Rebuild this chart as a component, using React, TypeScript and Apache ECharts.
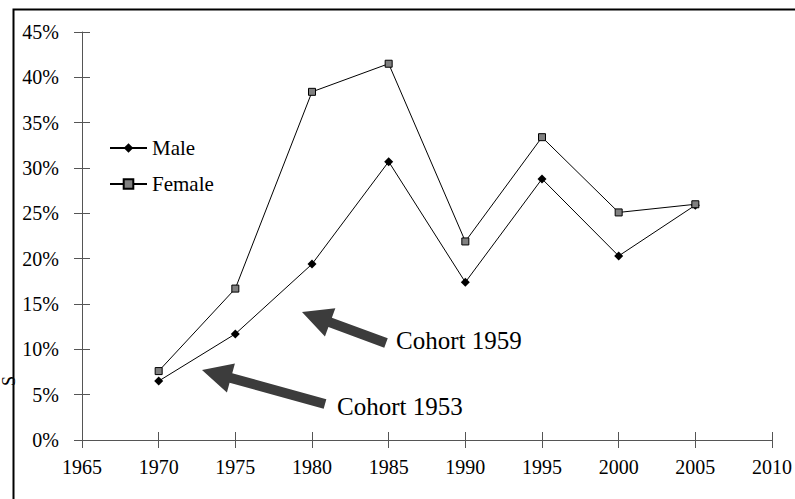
import React, { useEffect, useRef } from "react";
import * as echarts from "echarts";

const years = [1970, 1975, 1980, 1985, 1990, 1995, 2000, 2005];
const maleValues = [6.5, 11.7, 19.4, 30.7, 17.4, 28.8, 20.3, 25.9];
const femaleValues = [7.6, 16.7, 38.4, 41.5, 21.9, 33.4, 25.1, 26.0];
const seriesNames = ["Male", "Female"];
const cohortLabels = ["Cohort 1959", "Cohort 1953"];

const FONT = "Liberation Serif";
const LABEL_FONT = "Times New Roman, Liberation Serif, serif";

function arrowPoints(tip: number[], tail: number[], headLen: number, headHalf: number, shaftHalf: number) {
  const dx = tail[0] - tip[0];
  const dy = tail[1] - tip[1];
  const len = Math.sqrt(dx * dx + dy * dy);
  const ux = dx / len, uy = dy / len;
  const nx = -uy, ny = ux;
  const bx = tip[0] + headLen * ux, by = tip[1] + headLen * uy;
  return [
    [tip[0], tip[1]],
    [bx - headHalf * nx, by - headHalf * ny],
    [bx - shaftHalf * nx, by - shaftHalf * ny],
    [tail[0] - shaftHalf * nx, tail[1] - shaftHalf * ny],
    [tail[0] + shaftHalf * nx, tail[1] + shaftHalf * ny],
    [bx + shaftHalf * nx, by + shaftHalf * ny],
    [bx + headHalf * nx, by + headHalf * ny],
  ];
}

export default function App() {
  const ref = useRef<HTMLDivElement>(null);
  useEffect(() => {
    if (!ref.current) return;
    const chart = echarts.init(ref.current, null, { renderer: "svg" });
    const axisColor = "#555";
    const makeX = (inside: boolean, show: boolean) => ({
      type: "value" as const,
      min: 1965,
      max: 2010,
      interval: 5,
      position: "bottom" as const,
      axisLine: { show, lineStyle: { color: axisColor, width: 1 } },
      axisTick: { show: true, inside, length: 8, lineStyle: { color: axisColor } },
      axisLabel: {
        show,
        margin: 17,
        color: "#000",
        fontFamily: LABEL_FONT,
        fontSize: 20,
        formatter: (v: number) => String(v),
      },
      splitLine: { show: false },
    });
    const makeY = (inside: boolean, show: boolean) => ({
      type: "value" as const,
      min: 0,
      max: 45,
      interval: 5,
      position: "left" as const,
      axisLine: { show, lineStyle: { color: axisColor, width: 1 } },
      axisTick: { show: true, inside, length: 8, lineStyle: { color: axisColor } },
      axisLabel: {
        show,
        margin: 23,
        color: "#000",
        fontFamily: LABEL_FONT,
        fontSize: 20,
        formatter: (v: number) => `${v}%`,
      },
      splitLine: { show: false },
    });
    const a1 = arrowPoints([302, 312], [386, 343], 30, 15, 5);
    const a2 = arrowPoints([202, 370], [325, 404], 30, 15, 5);
    chart.setOption({
      animation: false,
      backgroundColor: "#fff",
      textStyle: { fontFamily: LABEL_FONT },
      grid: { left: 82, right: 23, top: 32, bottom: 59 },
      xAxis: [makeX(false, true), makeX(true, false)],
      yAxis: [makeY(false, true), makeY(true, false)],
      legend: {
        orient: "vertical",
        left: 109,
        top: 137,
        padding: 0,
        itemWidth: 37,
        itemHeight: 12,
        itemGap: 14,
        textStyle: { fontFamily: LABEL_FONT, fontSize: 21, color: "#000", lineHeight: 22 },
        data: seriesNames,
      },
      series: [
        {
          name: seriesNames[0],
          type: "line",
          data: years.map((y, i) => [y, maleValues[i]]),
          symbol: "diamond",
          symbolSize: 9,
          lineStyle: { color: "#000", width: 1 },
          itemStyle: { color: "#000" },
        },
        {
          name: seriesNames[1],
          type: "line",
          data: years.map((y, i) => [y, femaleValues[i]]),
          symbol: "rect",
          symbolSize: 7,
          lineStyle: { color: "#000", width: 1 },
          itemStyle: { color: "#808080", borderColor: "#000", borderWidth: 1 },
        },
      ],
      graphic: [
        {
          type: "text",
          x: 9,
          y: 381,
          rotation: Math.PI / 2,
          style: { text: "S", font: `18px ${FONT}`, fill: "#000", align: "center", verticalAlign: "middle" },
          z: 1,
        },
        {
          type: "rect",
          shape: { x: 13.5, y: 9.5, width: 1000, height: 1000 },
          style: { fill: "none", stroke: "#000", lineWidth: 2 },
          z: 2,
        },
        {
          type: "polygon",
          shape: { points: a1 },
          style: { fill: "#3c3c3c" },
          z: 3,
        },
        {
          type: "polygon",
          shape: { points: a2 },
          style: { fill: "#3c3c3c" },
          z: 3,
        },
        {
          type: "text",
          x: 396,
          y: 340,
          style: { text: cohortLabels[0], font: `25px ${FONT}`, fill: "#000", verticalAlign: "middle" },
          z: 3,
        },
        {
          type: "text",
          x: 337,
          y: 406,
          style: { text: cohortLabels[1], font: `25px ${FONT}`, fill: "#000", verticalAlign: "middle" },
          z: 3,
        },
      ],
    });
    return () => chart.dispose();
  }, []);
  return (
    <div
      ref={ref}
      style={{ position: "fixed", left: 0, top: 0, width: 795, height: 499, background: "#fff" }}
    />
  );
}
